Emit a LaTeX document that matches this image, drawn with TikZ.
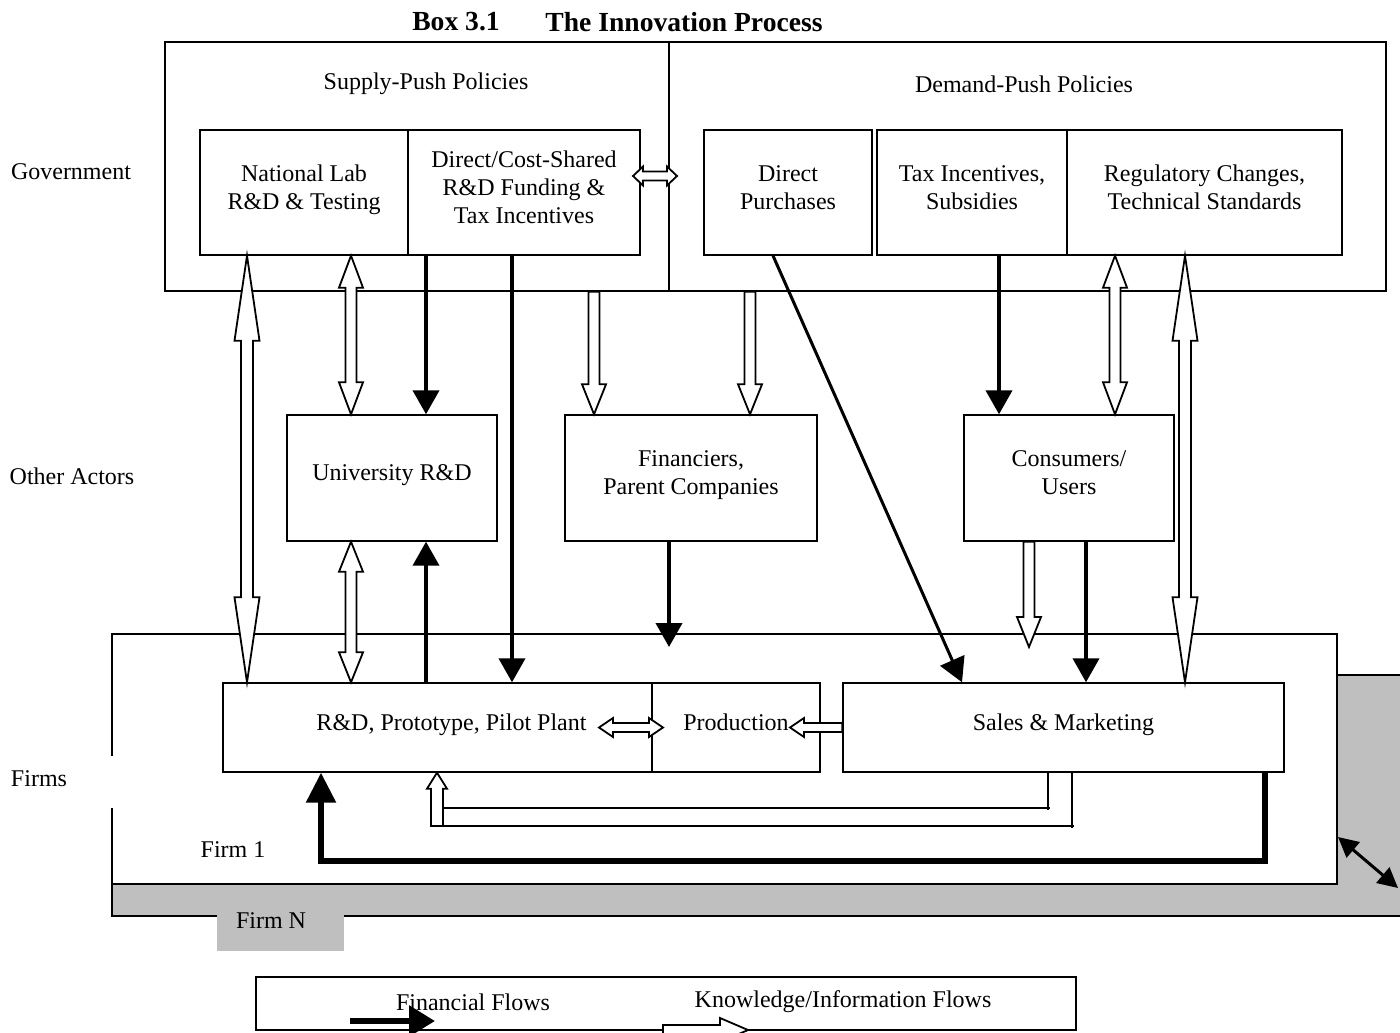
\documentclass[tikz,border=0pt]{standalone}
\usepackage{fontspec}
\setmainfont{Liberation Serif}
\usepackage{tikz}
\usetikzlibrary{arrows.meta}
\usetikzlibrary{calc}
\usetikzlibrary{positioning}
\definecolor{firmgray}{rgb}{0.75,0.75,0.75}

% hollow (knowledge) arrow: start, end, shaft half width, head half width, head length
\newcommand{\hollowarrow}[5]{%
  \coordinate (ha-s) at (#1);
  \coordinate (ha-e) at (#2);
  \coordinate (ha-b) at ($(ha-e)!#5!(ha-s)$);
  \draw[hollow] ($(ha-s)!#3!90:(ha-e)$) -- ($(ha-b)!#3!90:(ha-e)$)
    -- ($(ha-b)!#4!90:(ha-e)$) -- (ha-e) -- ($(ha-b)!#4!-90:(ha-e)$)
    -- ($(ha-b)!#3!-90:(ha-e)$) -- ($(ha-s)!#3!-90:(ha-e)$) -- cycle;
}
% same, with a head at both ends
\newcommand{\hollowboth}[5]{%
  \coordinate (hb-s) at (#1);
  \coordinate (hb-e) at (#2);
  \coordinate (hb-p) at ($(hb-s)!#5!(hb-e)$);
  \coordinate (hb-q) at ($(hb-e)!#5!(hb-s)$);
  \draw[hollow] (hb-s) -- ($(hb-p)!#4!90:(hb-e)$) -- ($(hb-p)!#3!90:(hb-e)$)
    -- ($(hb-q)!#3!90:(hb-e)$) -- ($(hb-q)!#4!90:(hb-e)$) -- (hb-e)
    -- ($(hb-q)!#4!-90:(hb-e)$) -- ($(hb-q)!#3!-90:(hb-e)$)
    -- ($(hb-p)!#3!-90:(hb-e)$) -- ($(hb-p)!#4!-90:(hb-e)$) -- cycle;
}

\begin{document}
\begin{tikzpicture}[x=0.5pt, y=-0.5pt,
  font=\fontsize{12}{14}\selectfont,
  box/.style={draw, fill=white, line width=0.7pt, inner sep=0pt, align=center, text depth=5pt},
  hollow/.style={draw, fill=white, line width=0.9pt, line join=miter},
  money/.style={line width=2pt, -{Triangle[length=12pt,width=13pt]}},
  thinline/.style={line width=0.9pt}]
  \useasboundingbox (0,0) rectangle (1400,1032);
  \clip (0,0) rectangle (1400,1032);

  % title
  \node[font=\fontsize{13.8}{16}\selectfont\bfseries] (boxno) at (456,22) {Box 3.1};
  \node[font=\fontsize{13.8}{16}\selectfont\bfseries] (title) at (684,22) {The Innovation Process};

  % rows
  \node (gov) at (71,172) {Government};
  \node (oth) at (72,476) {Other Actors};
  \node (firms) at (39,779) {Firms};

  % government
  \node[box, minimum width=252pt, minimum height=124.5pt] (supply) at (417,166.5) {};
  \node[box, minimum width=358.5pt, minimum height=124.5pt] (demand) at (1027.5,166.5) {};
  \node (supplylbl) at (426,84) {Supply-Push Policies};
  \node (demandlbl) at (1024,84) {Demand-Push Policies};
  \node[box, minimum width=104pt, minimum height=62.5pt] (natlab) at (304,192.5) {National Lab\\R\&D \& Testing};
  \node[box, minimum width=116pt, minimum height=62.5pt] (dcs) at (524,192.5) {Direct/Cost-Shared\\R\&D Funding \&\\Tax Incentives};
  \node[box, minimum width=84pt, minimum height=62.5pt] (dpur) at (788,192.5) {Direct\\Purchases};
  \node[box, minimum width=95pt, minimum height=62.5pt] (tax) at (972,192.5) {Tax Incentives,\\Subsidies};
  \node[box, minimum width=137.5pt, minimum height=62.5pt] (reg) at (1204.5,192.5) {Regulatory Changes,\\Technical Standards};

  % other actors
  \node[box, minimum width=105pt, minimum height=63pt] (univ) at (392,478) {University R\&D};
  \node[box, minimum width=126pt, minimum height=63pt] (fin) at (691,478) {Financiers,\\Parent Companies};
  \node[box, minimum width=105pt, minimum height=63pt] (cons) at (1069,478) {Consumers/\\Users};

  % firms
  \draw[fill=firmgray, line width=0.7pt] (112,675) rectangle (1410,916);
  \node[box, minimum width=612.5pt, minimum height=125pt] (firm1) at (724.5,759) {};
  \fill[white] (110,756) rectangle (114,808);
  \fill[firmgray] (217,913) rectangle (344,951);
  \node (firmN) at (271,921) {Firm N};
  \node (firm1lbl) at (233,850) {Firm 1};
  \node[box, minimum width=228.5pt, minimum height=44.5pt] (rd) at (451.5,727.5) {R\&D, Prototype, Pilot Plant};
  \node[box, minimum width=84pt, minimum height=44.5pt] (prod) at (736,727.5) {Production};
  \node[box, minimum width=220.5pt, minimum height=44.5pt] (sales) at (1063.5,727.5) {Sales \& Marketing};

  % knowledge flows
  \hollowboth{633,176}{677,176}{2.25pt}{4.75pt}{5pt}
  \hollowboth{247,0 |- natlab.south}{247,0 |- rd.north}{3pt}{6.25pt}{42.5pt}
  \hollowboth{351,0 |- natlab.south}{351,0 |- univ.north}{2.75pt}{6pt}{16pt}
  \hollowarrow{594,0 |- supply.south}{594,0 |- fin.north}{2.75pt}{6pt}{15pt}
  \hollowarrow{750,0 |- demand.south}{750,0 |- fin.north}{2.75pt}{6pt}{15pt}
  \hollowboth{1115,0 |- reg.south}{1115,0 |- cons.north}{2.75pt}{6pt}{16pt}
  \hollowboth{1185,0 |- reg.south}{1185,0 |- sales.north}{3pt}{6.25pt}{42.5pt}
  \hollowboth{351,0 |- univ.south}{351,0 |- rd.north}{2.75pt}{6pt}{15pt}
  \hollowarrow{1029,0 |- cons.south}{1029,647}{2.75pt}{6pt}{15pt}
  \hollowboth{599,0 |- rd.center}{663,0 |- rd.center}{2.25pt}{4.75pt}{7pt}
  \hollowarrow{sales.west}{790,0 |- sales.west}{2.25pt}{4.75pt}{7pt}

  % feedback from sales
  \hollowarrow{437,826}{437,0 |- rd.south}{3pt}{5pt}{8pt}
  \draw[thinline] (1048,0 |- sales.south) -- (1048,810);
  \draw[thinline] (443,808) -- (1050,808);
  \draw[thinline] (1072,0 |- sales.south) -- (1072,828);
  \draw[thinline] (443,826) -- (1074,826);

  % financial flows
  \draw[money] (426,0 |- dcs.south) -- (426,0 |- univ.north);
  \draw[money] (512,0 |- dcs.south) -- (512,0 |- rd.north);
  \draw[money, line width=1.5pt] (773,0 |- dpur.south) -- (962,0 |- sales.north);
  \draw[money] (999,0 |- tax.south) -- (999,0 |- cons.north);
  \draw[money] (426,0 |- rd.north) -- (426,0 |- univ.south);
  \draw[money] (669,0 |- fin.south) -- (669,647);
  \draw[money] (1086,0 |- cons.south) -- (1086,0 |- sales.north);
  \draw[money, line width=2.8pt, line join=miter, -{Triangle[length=15pt,width=14.5pt]}]
    (1265,0 |- sales.south) |- (321,861) -- (321,0 |- rd.south);
  \draw[line width=1.5pt, {Triangle[length=10pt,width=10pt]}-{Triangle[length=10pt,width=10pt]}]
    (1338,837) -- (1398,888);

  % legend
  \node[box, minimum width=410pt, minimum height=26.5pt] (legend) at (666,1003.5) {};
  \node (finlbl) at (473,1002) {Financial Flows};
  \node (knowlbl) at (843,1002) {Knowledge/Information Flows};
  \draw[money, line width=3pt, -{Triangle[length=13pt,width=15pt]}] (350,1021) -- (435,1021);
  \hollowarrow{663,1030}{748,1030}{2.5pt}{6pt}{14pt}
\end{tikzpicture}
\end{document}
